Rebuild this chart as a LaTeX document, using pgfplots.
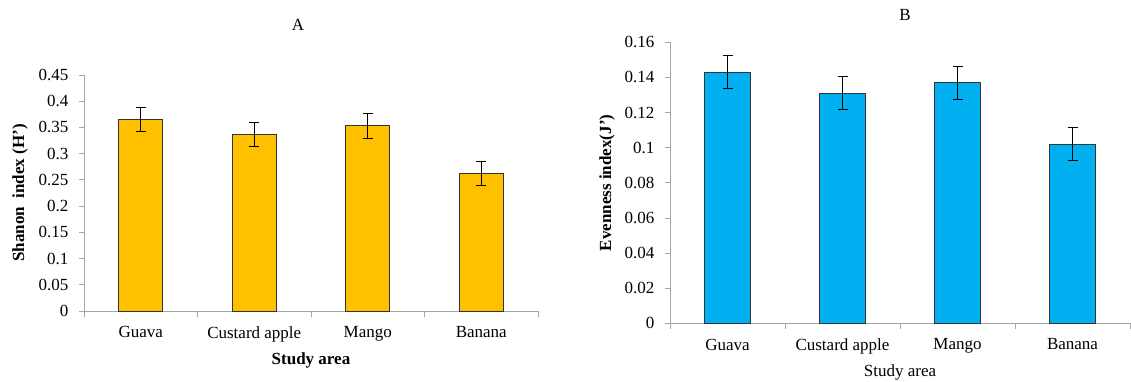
\documentclass[border=0pt]{standalone}
\usepackage{pgfplots}
\pgfplotsset{compat=1.18}
\usepackage{fontspec}
\setmainfont{Liberation Serif}
\definecolor{barA}{HTML}{FFC000}
\definecolor{barB}{HTML}{00B0F0}
\definecolor{axgray}{HTML}{A6A6A6}
\newcommand{\fs}{\fontsize{17}{20}\selectfont}
\begin{document}
\begin{tikzpicture}[x=1pt,y=1pt]
\useasboundingbox (0,0) rectangle (1131,381);
\pgfplotsset{
 common/.style={
  scale only axis, anchor=south west, ybar,
  xmin=-0.5, xmax=3.5, ymin=0,
  axis x line=bottom, axis y line=left,
  axis line style={axgray, -, line width=0.8pt},
  tick align=outside,
  xtick={0,1,2,3}, xticklabels={Guava, Custard apple, Mango, Banana},
  minor xtick={-0.5,0.5,1.5,2.5,3.5},
  tick style={axgray, line width=0.8pt},
  major x tick style={draw=none},
  major tick length=5pt, minor tick length=6pt,
  tick label style={font=\fs},
  /pgf/number format/assume math mode=true,
  yticklabel style={/pgf/number format/.cd, fixed, precision=2, /tikz/.cd, xshift=-7pt},
  xticklabel style={yshift=-7pt},
  scaled y ticks=false,
  label style={font=\fs},
 }}
\begin{axis}[common, at={(84pt,70pt)}, width=454pt, height=236pt,
  ymax=0.45, ytick={0,0.05,0.1,0.15,0.2,0.25,0.3,0.35,0.4,0.45},
  xlabel={\textbf{Study area}},
  ylabel={\textbf{Shanon\ \ index (H’)}},
  xlabel style={at={(axis description cs:0.5,-0.208)}, anchor=center},
  ylabel style={at={(axis description cs:-0.141,0.5)}, anchor=center},
]
\addplot[bar width=44pt, fill=barA, draw=black!80, line width=0.8pt,
  error bars/.cd, y dir=both, y explicit,
  error bar style={black, line width=0.8pt},
  error mark options={rotate=90, mark size=5pt, black, line width=0.8pt}]
coordinates {(0,0.366) +- (0,0.023) (1,0.336) +- (0,0.023) (2,0.353) +- (0,0.023) (3,0.262) +- (0,0.023)};
\end{axis}
\begin{axis}[common, at={(670pt,57.7pt)}, width=460pt, height=281pt,
  ymax=0.16, ytick={0,0.02,0.04,0.06,0.08,0.1,0.12,0.14,0.16},
  xlabel={Study area},
  ylabel={\textbf{Evenness index(J’)}},
  xlabel style={at={(axis description cs:0.5,-0.174)}, anchor=center},
  ylabel style={at={(axis description cs:-0.137,0.5)}, anchor=center},
]
\addplot[bar width=46pt, fill=barB, draw=black!80, line width=0.8pt,
  error bars/.cd, y dir=both, y explicit,
  error bar style={black, line width=0.8pt},
  error mark options={rotate=90, mark size=5pt, black, line width=0.8pt}]
coordinates {(0,0.143) +- (0,0.0093) (1,0.131) +- (0,0.0093) (2,0.137) +- (0,0.0093) (3,0.102) +- (0,0.0093)};
\end{axis}
\node[font=\fs] at (298,356) {A};
\node[font=\fs] at (905,366) {B};
\end{tikzpicture}
\end{document}
